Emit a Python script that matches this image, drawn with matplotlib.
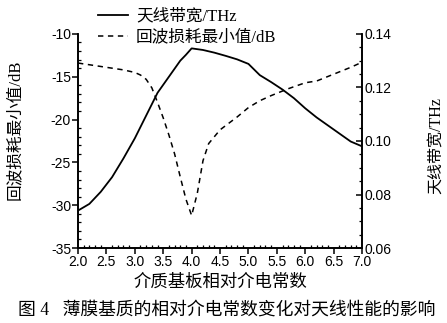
import matplotlib.pyplot as plt
from matplotlib.ticker import MultipleLocator

plt.rcParams['font.family'] = ['Liberation Sans', 'Noto Sans CJK SC']

# dielectric constant vs bandwidth (right axis, THz)
eps_bw = [2.0, 2.2, 2.4, 2.6, 2.8, 3.0, 3.2, 3.4, 3.6, 3.8, 3.9, 4.0, 4.2, 4.4, 4.6,
          4.8, 5.0, 5.2, 5.4, 5.6, 5.8, 6.0, 6.2, 6.4, 6.6, 6.8, 7.0]
bandwidth = [0.0740, 0.0765, 0.0810, 0.0865, 0.0935, 0.1010, 0.1095, 0.1180, 0.1240,
             0.1300, 0.1322, 0.1346, 0.1340, 0.1330, 0.1318, 0.1305, 0.1288, 0.1246,
             0.1220, 0.1192, 0.1160, 0.1122, 0.1088, 0.1058, 0.1028, 0.0998, 0.0980]

# dielectric constant vs minimum return loss (left axis, dB)
eps_rl = [2.0, 2.4, 2.8, 3.0, 3.1, 3.2, 3.3, 3.4, 3.5, 3.6, 3.7, 3.8, 3.9, 4.0, 4.1,
          4.2, 4.3, 4.5, 4.8, 5.0, 5.2, 5.4, 5.7, 6.0, 6.2, 6.5, 6.8, 7.0]
return_loss = [-13.4, -13.8, -14.2, -14.5, -14.8, -15.3, -16.3, -18.0, -19.8, -21.8,
               -24.0, -26.7, -29.3, -31.2, -28.6, -24.8, -22.8, -21.2, -19.7, -18.6,
               -17.8, -17.2, -16.4, -15.7, -15.5, -14.7, -13.9, -13.3]

cjk = ['Liberation Serif', 'Noto Sans CJK SC']

fig = plt.figure(figsize=(4.47, 3.23), dpi=100)
ax = fig.add_axes([0.1745, 0.232, 0.6355, 0.663])
ax2 = ax.twinx()

l2, = ax.plot(eps_rl, return_loss, color='black', lw=1.1, ls=(0, (3.5, 3)))
l1, = ax2.plot(eps_bw, bandwidth, color='black', lw=1.3)

ax.set_xlim(2.0, 7.0)
ax.set_ylim(-35, -10)
ax2.set_ylim(0.06, 0.14)
ax.xaxis.set_major_locator(MultipleLocator(0.5))
ax.xaxis.set_minor_locator(MultipleLocator(0.1))
ax.yaxis.set_major_locator(MultipleLocator(5))
ax.yaxis.set_minor_locator(MultipleLocator(1))
ax2.yaxis.set_major_locator(MultipleLocator(0.02))
ax2.yaxis.set_minor_locator(MultipleLocator(0.005))

for a in (ax, ax2):
    a.spines['top'].set_visible(False)
    for s in a.spines.values():
        s.set_linewidth(1.2)
ax.tick_params(which='major', direction='out', length=4, width=1.1, labelsize=10, pad=1)
ax.tick_params(which='minor', direction='in', length=2.5, width=0.9)
ax2.tick_params(which='major', direction='in', length=4, width=1.1, labelsize=10, pad=2)
ax2.tick_params(which='minor', direction='in', length=2.5, width=0.9)
ax.set_xticklabels([f'{v:.1f}' for v in ax.get_xticks()])
ax.set_yticklabels([f'{int(v)}' for v in ax.get_yticks()])

ax.set_xlabel('介质基板相对介电常数', family=cjk, fontsize=12.5, labelpad=4)
fig.text(0.034, 0.597, '回波损耗最小值/dB', family=cjk, fontsize=12,
         rotation=90, ha='center', va='center')
fig.text(0.978, 0.548, '天线带宽/THz', family=cjk, fontsize=11.5,
         rotation=90, ha='center', va='center')

fig.legend([l1, l2], ['天线带宽/THz', '回波损耗最小值/dB'], loc='upper left',
           bbox_to_anchor=(0.185, 1.02), frameon=False, prop={'family': cjk, 'size': 12},
           handlelength=1.8, handletextpad=0.5, labelspacing=0.3)

fig.text(0.04, 0.04, '图 4   薄膜基质的相对介电常数变化对天线性能的影响', family=cjk,
         fontsize=12.8, ha='left', va='center')

fig.savefig('out.png', dpi=100)
